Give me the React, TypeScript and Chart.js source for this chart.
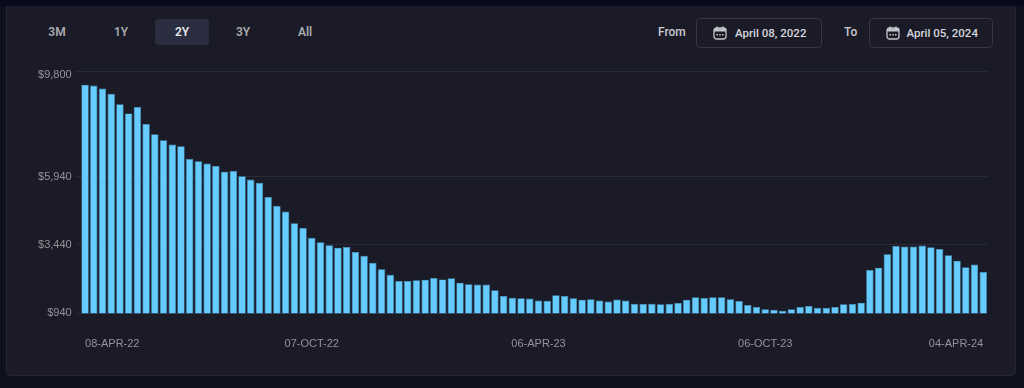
import React, { useEffect, useRef } from "react";
import { Chart, registerables } from "chart.js";

Chart.register(...registerables);

const values = [
  9300, 9270, 9160, 8970, 8580, 8250, 8480, 7860, 7490, 7270, 7110, 7050, 6580, 6500, 6420, 6330,
  6120, 6140, 5950, 5830, 5710, 5190, 4870, 4660, 4230, 4060, 3700, 3540, 3430, 3340, 3360, 3180,
  3040, 2790, 2550, 2350, 2120, 2120, 2150, 2170, 2230, 2180, 2220, 2060, 2000, 1990, 1990, 1780,
  1570, 1510, 1490, 1480, 1410, 1400, 1600, 1570, 1490, 1440, 1450, 1410, 1370, 1445, 1410, 1290,
  1280, 1290, 1270, 1290, 1320, 1440, 1530, 1500, 1530, 1530, 1450, 1390, 1240, 1170, 1090, 1070,
  1035, 1090, 1170, 1210, 1145, 1145, 1170, 1270, 1280, 1330, 2525, 2610, 3100, 3400, 3380, 3380,
  3415, 3355, 3290, 3060, 2865, 2625, 2720, 2450,
];
const tickIndices = [0, 26, 52, 78, 103];
const tickLabels = ["08-APR-22", "07-OCT-22", "06-APR-23", "06-OCT-23", "04-APR-24"];
const yTicks = [940, 3440, 5940, 9800];
const rangeButtons = [
  { label: "3M", center: 57 },
  { label: "1Y", center: 121 },
  { label: "2Y", center: 182 },
  { label: "3Y", center: 243 },
  { label: "All", center: 305 },
];
const categories = values.map((_, i) => {
  const at = tickIndices.indexOf(i);
  return at >= 0 ? tickLabels[at] : "";
});

const uiFont = "Roboto, Inter, sans-serif";
const axisFont = "'Liberation Sans', Arial, sans-serif";

function CalendarIcon({ left }: { left: number }) {
  return (
    <svg
      width="14"
      height="14"
      viewBox="0 0 14 14"
      style={{ position: "absolute", left, top: 7.5 }}
    >
      <rect x="1" y="2" width="12" height="11" rx="2.5" fill="none" stroke="#c4c5cc" strokeWidth="1.3" />
      <rect x="1" y="2.5" width="12" height="3" fill="#c4c5cc" />
      <rect x="3.4" y="0.5" width="1.4" height="3" fill="#c4c5cc" />
      <rect x="9.2" y="0.5" width="1.4" height="3" fill="#c4c5cc" />
      <rect x="3.5" y="8" width="1.5" height="1.5" fill="#c4c5cc" />
      <rect x="6.25" y="8" width="1.5" height="1.5" fill="#c4c5cc" />
      <rect x="9" y="8" width="1.5" height="1.5" fill="#c4c5cc" />
    </svg>
  );
}

function DateBox({ left, width, text, textLeft }: { left: number; width: number; text: string; textLeft: number }) {
  return (
    <div
      style={{
        position: "absolute",
        left,
        top: 17.5,
        width,
        height: 30,
        boxSizing: "border-box",
        border: "1px solid #35363f",
        borderRadius: 4,
        color: "#d6d7dc",
        font: `500 11.5px ${uiFont}`,
      }}
    >
      <CalendarIcon left={16} />
      <span style={{ position: "absolute", left: textLeft, top: 7, whiteSpace: "nowrap" }}>{text}</span>
    </div>
  );
}

export default function App() {
  const ref = useRef<HTMLCanvasElement>(null);

  useEffect(() => {
    if (!ref.current) return;
    const chart = new Chart(ref.current, {
      type: "bar",
      data: {
        labels: categories,
        datasets: [
          {
            data: values,
            backgroundColor: "#66ccff",
            borderColor: "#4c9fc6",
            borderWidth: 0.7,
            borderSkipped: false,
            barPercentage: 0.85,
            categoryPercentage: 1,
          },
        ],
      },
      options: {
        animation: false,
        responsive: false,
        maintainAspectRatio: false,
        layout: { padding: { left: 0, right: 36.4, top: 71, bottom: 0 } },
        plugins: { legend: { display: false }, tooltip: { enabled: false } },
        scales: {
          x: {
            type: "category",
            grid: { display: false },
            border: { display: false },
            afterBuildTicks: (scale: any) => {
              scale.ticks = tickIndices.map((value) => ({ value }));
            },
            afterFit: (scale: any) => {
              scale.height = 74.7;
            },
            ticks: {
              autoSkip: false,
              maxRotation: 0,
              minRotation: 0,
              align: "inner",
              padding: 16,
              color: "#93939b",
              font: { family: axisFont, size: 11 },
              callback: (_: any, i: number) => tickLabels[i],
            },
          },
          y: {
            type: "linear",
            min: 940,
            max: 9800,
            afterBuildTicks: (scale: any) => {
              scale.ticks = yTicks.map((value) => ({ value }));
            },
            afterFit: (scale: any) => {
              scale.width = 80.7;
            },
            border: { display: false },
            grid: {
              color: "#2a2b38",
              lineWidth: 1,
              drawTicks: true,
              tickLength: 4,
              tickColor: "#2a2b38",
            },
            ticks: {
              padding: 5,
              color: "#93939b",
              font: (ctx: any) =>
                ctx.index === yTicks.length - 1
                  ? { family: axisFont, size: 11, lineHeight: 0.64 }
                  : { family: axisFont, size: 11 },
              callback: (v: any) => {
                const text = "$" + Number(v).toLocaleString("en-US");
                return v === yTicks[yTicks.length - 1] ? ["", text] : text;
              },
            },
          },
        },
      },
    } as any);
    return () => chart.destroy();
  }, []);

  return (
    <div
      style={{
        position: "fixed",
        left: 0,
        top: 0,
        width: 1024,
        height: 388,
        overflow: "hidden",
        background: "#0f111f",
        filter: "blur(0.35px)",
      }}
    >
      <div style={{ position: "absolute", left: 0, top: 0, width: 1024, height: 6, background: "#080a1a" }} />
      <div
        style={{
          position: "absolute",
          left: 6,
          top: 6,
          width: 1010,
          height: 370,
          boxSizing: "border-box",
          background: "#1a1b27",
          border: "1px solid #252632",
          borderTop: "none",
          borderRadius: "0 0 5px 5px",
        }}
      />
      <div
        style={{
          position: "absolute",
          left: 155,
          top: 19,
          width: 54,
          height: 26,
          background: "#2a2e40",
          borderRadius: 4,
        }}
      />
      {rangeButtons.map((b) => (
        <div
          key={b.label}
          style={{
            position: "absolute",
            left: b.center - 25,
            width: 50,
            top: 25,
            textAlign: "center",
            color: b.label === "2Y" ? "#e6e7ea" : "#a9aab0",
            font: `600 12px ${uiFont}`,
          }}
        >
          {b.label}
        </div>
      ))}
      <div style={{ position: "absolute", left: 658, top: 25, color: "#c9cad0", font: `500 12px ${uiFont}` }}>
        From
      </div>
      <div style={{ position: "absolute", left: 844, top: 25, color: "#c9cad0", font: `500 12px ${uiFont}` }}>
        To
      </div>
      <DateBox left={696} width={126} text="April 08, 2022" textLeft={38} />
      <DateBox left={869} width={124} text="April 05, 2024" textLeft={36.5} />
      <canvas
        ref={ref}
        width={1024}
        height={388}
        style={{ position: "absolute", left: 0, top: 0, width: 1024, height: 388 }}
      />
    </div>
  );
}
